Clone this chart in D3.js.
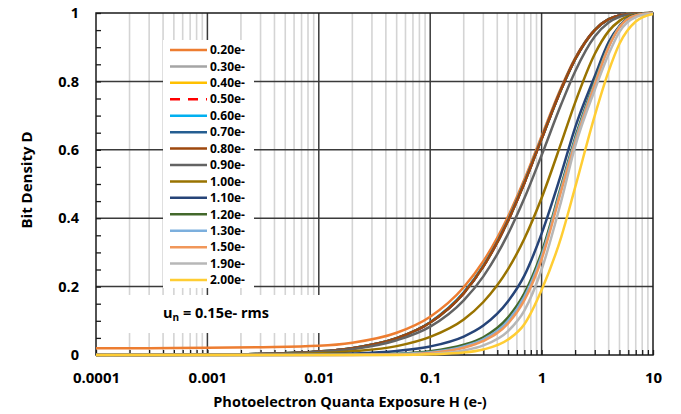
<!DOCTYPE html>
<html lang="en">
<head>
    <meta charset="UTF-8">
    <title>Bit Density vs Exposure</title>
    <script src="https://d3js.org/d3.v7.min.js"></script>
    <style>
        body { margin: 0; background: #fff; }
        svg text { font-family: "Open Sans", "Liberation Sans", sans-serif; font-weight: 700; fill: #000; }
    </style>
</head>
<body>
    <div id="chart"></div>

    <script>
        const exposure = [0.0001, 0.0003, 0.001, 0.003, 0.01, 0.02, 0.05, 0.1, 0.2, 0.3, 0.5, 0.7, 1, 1.5, 2, 3, 4, 5, 7, 10];

        // threshold labels, in legend order
        const thresholds = ["0.20e-", "0.30e-", "0.40e-", "0.50e-", "0.60e-", "0.70e-", "0.80e-", "0.90e-",
                            "1.00e-", "1.10e-", "1.20e-", "1.30e-", "1.50e-", "1.90e-", "2.00e-"];
        const colors = ["#ED7D31", "#A5A5A5", "#FFC000", "#FF0000", "#00B0F0", "#255E91", "#9E480E", "#636363",
                        "#997300", "#264478", "#43682B", "#7CAFDD", "#F1975A", "#B7B7B7", "#FFCD33"];

        // bit density D per threshold
        const d020 = [0.020, 0.020, 0.021, 0.023, 0.027, 0.036, 0.065, 0.112, 0.198, 0.274, 0.405, 0.513, 0.640, 0.782, 0.868, 0.951, 0.982, 0.993, 0.999, 1.000];
        const d030 = [0.0001, 0.0003, 0.001, 0.003, 0.010, 0.020, 0.049, 0.095, 0.181, 0.259, 0.393, 0.503, 0.632, 0.777, 0.865, 0.950, 0.982, 0.993, 0.999, 1.000];
        const d040 = [0.0001, 0.0003, 0.001, 0.003, 0.010, 0.020, 0.049, 0.095, 0.181, 0.259, 0.393, 0.503, 0.632, 0.777, 0.865, 0.950, 0.982, 0.993, 0.999, 1.000];
        const d050 = [0.0001, 0.0003, 0.001, 0.003, 0.010, 0.020, 0.049, 0.095, 0.181, 0.259, 0.393, 0.503, 0.632, 0.777, 0.865, 0.950, 0.982, 0.993, 0.999, 1.000];
        const d060 = [0.0001, 0.0003, 0.001, 0.003, 0.010, 0.020, 0.049, 0.096, 0.183, 0.261, 0.395, 0.505, 0.633, 0.777, 0.865, 0.950, 0.982, 0.993, 0.999, 1.000];
        const d070 = [0.0001, 0.0003, 0.001, 0.003, 0.010, 0.020, 0.049, 0.095, 0.181, 0.259, 0.393, 0.503, 0.632, 0.777, 0.865, 0.950, 0.982, 0.993, 0.999, 1.000];
        const d080 = [0.0001, 0.0003, 0.001, 0.003, 0.010, 0.020, 0.049, 0.095, 0.181, 0.259, 0.393, 0.503, 0.632, 0.777, 0.865, 0.950, 0.982, 0.993, 0.999, 1.000];
        const d090 = [0.0001, 0.0003, 0.001, 0.003, 0.009, 0.017, 0.043, 0.083, 0.160, 0.230, 0.354, 0.458, 0.584, 0.733, 0.829, 0.931, 0.972, 0.989, 0.998, 1.000];
        const d100 = [0.0001, 0.0002, 0.0005, 0.0016, 0.005, 0.011, 0.026, 0.053, 0.104, 0.155, 0.251, 0.340, 0.459, 0.620, 0.738, 0.880, 0.947, 0.977, 0.996, 1.000];
        const d110 = [0, 0, 0.0002, 0.0007, 0.0022, 0.0045, 0.012, 0.025, 0.054, 0.086, 0.157, 0.232, 0.355, 0.530, 0.665, 0.815, 0.915, 0.962, 0.994, 1.000];
        const d120 = [0, 0, 0, 0.0001, 0.0005, 0.0015, 0.004, 0.011, 0.030, 0.052, 0.110, 0.180, 0.300, 0.495, 0.635, 0.800, 0.905, 0.960, 0.993, 1.000];
        const d130 = [0, 0, 0, 0, 0.0002, 0.0007, 0.003, 0.008, 0.025, 0.046, 0.100, 0.170, 0.290, 0.488, 0.628, 0.795, 0.902, 0.959, 0.993, 1.000];
        const d150 = [0, 0, 0, 0, 0.0001, 0.0003, 0.0015, 0.006, 0.021, 0.041, 0.092, 0.160, 0.280, 0.480, 0.620, 0.790, 0.900, 0.958, 0.993, 1.000];
        const d190 = [0, 0, 0, 0, 0, 0.0001, 0.0008, 0.003, 0.013, 0.028, 0.070, 0.130, 0.250, 0.450, 0.610, 0.775, 0.880, 0.945, 0.988, 0.999];
        const d200 = [0, 0, 0, 0, 0, 0, 0.0003, 0.002, 0.007, 0.016, 0.045, 0.090, 0.190, 0.345, 0.490, 0.700, 0.830, 0.910, 0.975, 0.997];

        const values = [d020, d030, d040, d050, d060, d070, d080, d090, d100, d110, d120, d130, d150, d190, d200];

        const yTicks = [0, 0.2, 0.4, 0.6, 0.8, 1];
        const xTicks = [0.0001, 0.001, 0.01, 0.1, 1, 10];

        const width = 681, height = 414;
        const plotLeft = 96, plotRight = 653, plotTop = 13, plotBottom = 355;

        const svg = d3.select("#chart").append("svg")
            .attr("width", width)
            .attr("height", height);

        const x = d3.scaleLog().domain([0.0001, 10]).range([plotLeft, plotRight]);
        const y = d3.scaleLinear().domain([0, 1]).range([plotBottom, plotTop]);

        // minor grid (2..9 in every decade)
        const minor = [];
        xTicks.slice(0, -1).forEach(d => {
            for (let k = 2; k <= 9; k++) minor.push(d * k);
        });

        const grid = svg.append("g");
        grid.selectAll("line.minor")
            .data(minor)
            .enter().append("line")
            .attr("x1", d => x(d)).attr("x2", d => x(d))
            .attr("y1", plotTop).attr("y2", plotBottom)
            .attr("stroke", "#d4d4d4")
            .attr("stroke-width", 1.6);

        grid.selectAll("line.vmajor")
            .data(xTicks.slice(1, -1))
            .enter().append("line")
            .attr("x1", d => x(d)).attr("x2", d => x(d))
            .attr("y1", plotTop).attr("y2", plotBottom)
            .attr("stroke", "#3a3a3a")
            .attr("stroke-width", 1.5);

        grid.selectAll("line.hmajor")
            .data(yTicks.slice(1, -1))
            .enter().append("line")
            .attr("x1", plotLeft).attr("x2", plotRight)
            .attr("y1", d => y(d)).attr("y2", d => y(d))
            .attr("stroke", "#3a3a3a")
            .attr("stroke-width", 1.5);

        // frame
        svg.append("rect")
            .attr("x", plotLeft).attr("y", plotTop)
            .attr("width", plotRight - plotLeft).attr("height", plotBottom - plotTop)
            .attr("fill", "none")
            .attr("stroke", "#1a1a1a")
            .attr("stroke-width", 1.5);

        // inner tick marks
        svg.append("g")
            .attr("transform", `translate(0,${plotBottom})`)
            .call(d3.axisBottom(x).tickValues(minor.concat(xTicks)).tickSize(-5).tickFormat(""))
            .call(g => g.select(".domain").remove())
            .call(g => g.selectAll("line").attr("stroke", "#1a1a1a").attr("stroke-width", 1.3));

        svg.append("g")
            .attr("transform", `translate(${plotLeft},0)`)
            .call(d3.axisLeft(y).tickValues(d3.range(0, 21).map(i => i / 20)).tickSize(-5).tickFormat(""))
            .call(g => g.select(".domain").remove())
            .call(g => g.selectAll("line").attr("stroke", "#1a1a1a").attr("stroke-width", 1.3));

        // tick labels
        svg.append("g")
            .attr("transform", `translate(0,${plotBottom})`)
            .call(d3.axisBottom(x).tickValues(xTicks).tickSize(0).tickPadding(17).tickFormat(d => String(d)))
            .call(g => g.select(".domain").remove())
            .call(g => g.selectAll("text").style("font-size", "15px"));

        svg.append("g")
            .attr("transform", `translate(${plotLeft},0)`)
            .call(d3.axisLeft(y).tickValues(yTicks).tickSize(0).tickPadding(17).tickFormat(d => String(+d.toFixed(1))))
            .call(g => g.select(".domain").remove())
            .call(g => g.selectAll("text").style("font-size", "14.5px"));

        // curves
        const line = d3.line()
            .x(d => x(d[0]))
            .y(d => y(d[1]))
            .curve(d3.curveMonotoneX);

        svg.append("g")
            .selectAll("path")
            .data(values)
            .enter().append("path")
            .attr("d", v => line(exposure.map((h, i) => [h, v[i]])))
            .attr("fill", "none")
            .attr("stroke", (v, i) => colors[i])
            .attr("stroke-width", 2.5)
            .attr("stroke-dasharray", (v, i) => thresholds[i] === "0.50e-" ? "10,8" : null);

        // legend
        const legend = svg.append("g");
        legend.append("rect")
            .attr("x", 163).attr("y", 40)
            .attr("width", 91).attr("height", 248)
            .attr("fill", "#fff");

        const item = legend.selectAll("g.item")
            .data(thresholds)
            .enter().append("g")
            .attr("transform", (d, i) => `translate(170,${50 + i * 16.43})`);

        item.append("line")
            .attr("x1", 0).attr("x2", 37)
            .attr("stroke", (d, i) => colors[i])
            .attr("stroke-width", 2.5)
            .attr("stroke-dasharray", d => d === "0.50e-" ? "10,8" : null);

        item.append("text")
            .attr("x", 40).attr("dy", "0.35em")
            .style("font-size", "12px")
            .text(d => d);

        // noise note
        svg.append("rect")
            .attr("x", 122).attr("y", 295)
            .attr("width", 198).attr("height", 38)
            .attr("fill", "#fff");

        const note = svg.append("text")
            .attr("x", 163).attr("y", 318)
            .style("font-size", "14.5px");
        note.append("tspan").text("u");
        note.append("tspan").attr("dy", 3).style("font-size", "10px").text("n");
        note.append("tspan").attr("dy", -3).text(" = 0.15e- rms");

        // axis titles
        svg.append("text")
            .attr("transform", "translate(32,180) rotate(-90)")
            .attr("text-anchor", "middle")
            .style("font-size", "15px")
            .text("Bit Density D");

        svg.append("text")
            .attr("x", 350).attr("y", 407)
            .attr("text-anchor", "middle")
            .style("font-size", "14.5px")
            .text("Photoelectron Quanta Exposure H (e-)");
    </script>
</body>
</html>
